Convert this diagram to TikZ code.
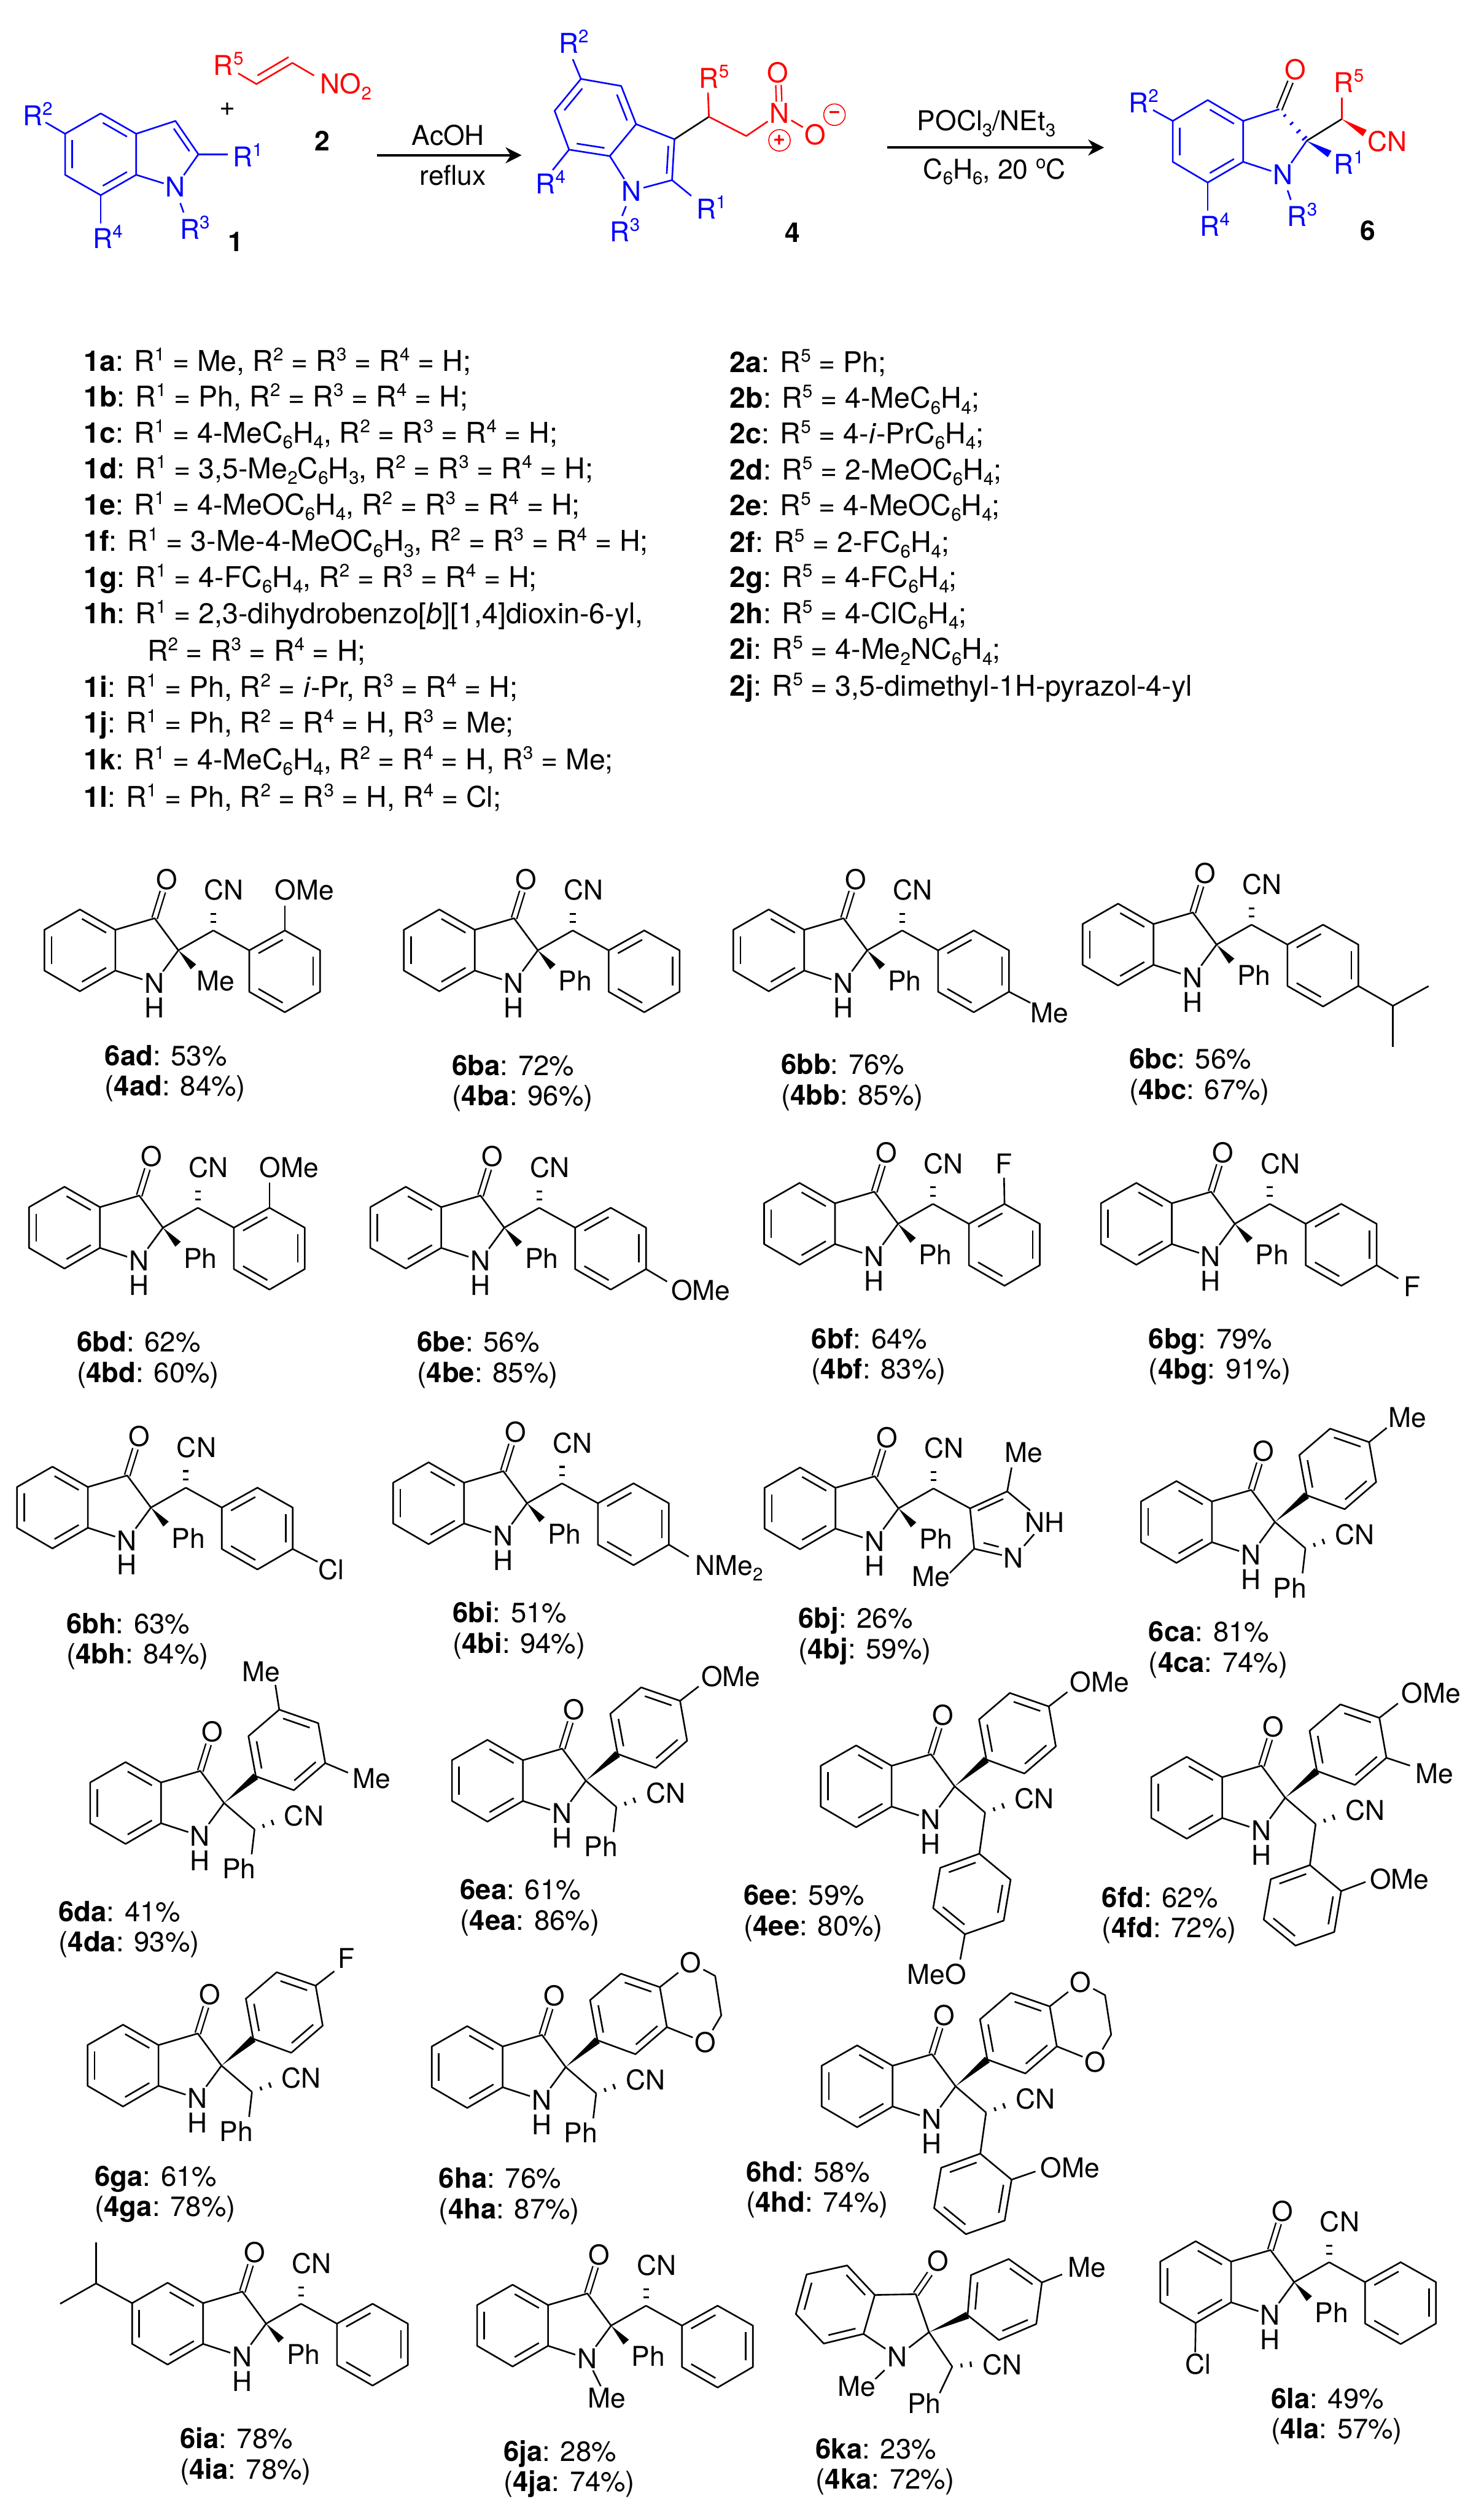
\documentclass[tikz,border=0pt]{standalone}
\usepackage{fontspec}
\setmainfont{TeX Gyre Heros}
\usetikzlibrary{calc,arrows.meta}
\newcommand{\chemsize}{\fontsize{17}{19}\selectfont}
\newcommand{\listsize}{\fontsize{17.8}{19}\selectfont}
\newcommand{\yieldsize}{\fontsize{17.4}{18.9}\selectfont}
\newcommand{\sps}[1]{\raisebox{6.5pt}{\fontsize{11.3}{11}\selectfont #1}}
\newcommand{\sbs}[1]{\raisebox{-3.6pt}{\fontsize{11.3}{11}\selectfont #1}}
\newcommand{\Rg}[1]{R\sps{#1}}
\tikzset{
  atom/.style={inner sep=1pt,font=\chemsize},
  rlabel/.style={inner sep=0pt,anchor=base west,font=\chemsize},
  txt/.style={inner sep=0pt,anchor=west,font=\listsize},
  yieldlbl/.style={inner sep=0pt,anchor=north west,align=left,font=\yieldsize},
  bond/.style={line width=1pt,line join=round},
  dblbond/.style={double,double distance=2.5pt,line width=.9pt},
  rxn/.style={line width=1.5pt,-{Stealth[length=10pt,width=10pt]}},
  charge/.style={circle,draw=red,line width=.6pt,minimum size=13.4pt,inner sep=0pt,text=red,font=\fontsize{13}{13}\bfseries\selectfont},
  mol/.style n args={3}{shift={(#2,#3)},name prefix=#1-}
}
\newcommand{\inbond}[3]{\draw[bond,shorten >=1.5pt,shorten <=1.5pt] ($(#1)!.2!(#3)$) -- ($(#2)!.2!(#3)$);}
\newcommand{\wdgbond}[2]{\fill ($(#2)!2.3pt!90:(#1)$) -- (#1) -- ($(#2)!2.3pt!-90:(#1)$) -- cycle;}
\newcommand{\hashbond}[3][.33/1.8,.66/1.8,1/1.8]{\foreach \t/\w in {#1} \draw[line width=1.2pt] ($(#2)!\t!(#3)!\w pt!90:(#3)$) -- ($(#2)!\t!(#3)!\w pt!-90:(#3)$);}
\newcommand{\subst}[4]{\coordinate (e#1) at (#2); \node[atom] (l#1) at (#3) {#4}; \draw[bond] (#1) -- (e#1);}
\newcommand{\ringcore}{
  \coordinate (c2) at (0,0);
  \coordinate (b1) at (-83.5,-12.8);
  \coordinate (b2) at (-61.4,-25.5);
  \coordinate (b3) at (-39.3,-12.8);
  \coordinate (b4) at (-39.3,12.6);
  \coordinate (b5) at (-61.4,25.5);
  \coordinate (b6) at (-83.5,12.6);
  \coordinate (bc) at (-61.4,0);
  \coordinate (co) at (-14.8,-20);
  \node[atom] (O) at (-7.3,-44.3) {O};
  \node[atom] (N) at (-15,20.5) {N};
  \draw[dblbond] (co) -- (O);
  \draw[bond] (b1) -- (b2) -- (b3) -- (b4) -- (b5) -- (b6) -- cycle;
  \draw[bond] (b3) -- (co) -- (c2) -- (N) -- (b4);
  \inbond{b6}{b1}{bc} \inbond{b2}{b3}{bc} \inbond{b4}{b5}{bc}
}
\newcommand{\NHcap}{\node[atom] (H) at (-15,35.8) {H};}
\newcommand{\sideA}[1]{
  \coordinate (w) at (9.4,10.3);
  \wdgbond{c2}{w}
  \node[atom] (R) at (23.3,19.1) {#1};
  \coordinate (ch) at (21.8,-12.4);
  \coordinate (hs) at (21.8,-28);
  \draw[bond] (c2) -- (ch);
  \hashbond{ch}{hs}
  \node[atom] (CN) at (28.4,-37.5) {CN};
}
\newcommand{\phenylA}{
  \coordinate (a1) at (44.2,0);
  \coordinate (a2) at (66.4,-12.4);
  \coordinate (a3) at (88.4,0);
  \coordinate (a4) at (88.4,25.8);
  \coordinate (a5) at (66.4,38.6);
  \coordinate (a6) at (44.2,25.8);
  \coordinate (ac) at (66.4,12.9);
  \draw[bond] (ch) -- (a1) -- (a2) -- (a3) -- (a4) -- (a5) -- (a6) -- (a1);
  \inbond{a1}{a2}{ac} \inbond{a3}{a4}{ac} \inbond{a5}{a6}{ac}
}
\newcommand{\sideB}{
  \coordinate (v1) at (19.8,-16.7);
  \coordinate (v2) at (15.2,-41.7);
  \coordinate (v3) at (34.4,-58.2);
  \coordinate (v4) at (58.7,-49.8);
  \coordinate (v5) at (63.1,-24.9);
  \coordinate (v6) at (43.5,-8);
  \coordinate (vc) at ($(v1)!.5!(v4)$);
  \wdgbond{c2}{v1}
  \draw[bond] (v1) -- (v2) -- (v3) -- (v4) -- (v5) -- (v6) -- cycle;
  \inbond{v1}{v2}{vc} \inbond{v3}{v4}{vc} \inbond{v5}{v6}{vc}
  \coordinate (ch) at (19,16.4);
  \coordinate (hs) at (36,10);
  \draw[bond] (c2) -- (ch);
  \hashbond[.33/1.2,.66/1.7,1/2.2]{ch}{hs}
  \node[atom] (CN) at (49.8,7.8) {CN};
}
\newcommand{\tailPh}{
  \coordinate (pe) at (17.2,32);
  \node[atom] (Ph) at (9.3,41) {Ph};
  \draw[bond] (ch) -- (pe);
}
\newcommand{\tailAr}{
  \coordinate (u1) at (15.4,42);
  \coordinate (u2) at (-9,50.8);
  \coordinate (u3) at (-13.4,76);
  \coordinate (u4) at (6.4,92.2);
  \coordinate (u5) at (30.6,83.7);
  \coordinate (u6) at (34.9,58.2);
  \coordinate (uc) at ($(u1)!.5!(u4)$);
  \draw[bond] (ch) -- (u1) -- (u2) -- (u3) -- (u4) -- (u5) -- (u6) -- (u1);
  \inbond{u1}{u2}{uc} \inbond{u3}{u4}{uc} \inbond{u5}{u6}{uc}
}
\newcommand{\dioxane}{
  \node[atom] (O1) at (78,-65) {O};
  \node[atom] (O2) at (87,-15.3) {O};
  \coordinate (d1) at (93.2,-56.8);
  \coordinate (d2) at (97,-32.2);
  \draw[bond] (v4) -- (O1) -- (d1) -- (d2) -- (O2) -- (v5);
}
\newcommand{\yieldtag}[5]{\node[yieldlbl] (y#1) at (#2,#3) {\textbf{6#1}: #4\%\\(\textbf{4#1}: #5\%)};}
\begin{document}
\begin{tikzpicture}[x=1pt,y=-1pt]
\useasboundingbox (0,0) rectangle (925,1568);

\begin{scope}[name prefix=one-,blue]
\coordinate (b1) at (40.6,83.4);
\coordinate (b2) at (62.8,70.7);
\coordinate (b3) at (84.9,83.4);
\coordinate (b4) at (84.9,109);
\coordinate (b5) at (62.8,121.7);
\coordinate (b6) at (40.6,109);
\coordinate (bc) at (62.8,96.2);
\coordinate (c3) at (109.4,75.4);
\coordinate (c2) at (123.7,96.2);
\coordinate (pc) at (100,93);
\node[atom] (N) at (109.4,116.6) {N};
\draw[bond] (b1) -- (b2) -- (b3) -- (b4) -- (b5) -- (b6) -- cycle;
\draw[bond] (b3) -- (c3) -- (c2) -- (N) -- (b4);
\inbond{b6}{b1}{bc} \inbond{b2}{b3}{bc} \inbond{b4}{b5}{bc} \inbond{c3}{c2}{pc}
\coordinate (e1) at (142,96.2);
\coordinate (e2) at (28.4,76.3);
\coordinate (e4) at (62.8,139.3);
\coordinate (e3a) at (112.4,126.6);
\coordinate (e3b) at (114.5,132.5);
\draw[bond] (c2) -- (e1);
\draw[bond] (b1) -- (e2);
\draw[bond] (b5) -- (e4);
\draw[bond] (e3a) -- (e3b);
\node[rlabel] (R1) at (145,103.9) {\Rg{1}};
\node[rlabel] (R2) at (14,78.3) {\Rg{2}};
\node[rlabel] (R4) at (57.7,154.9) {\Rg{4}};
\node[rlabel] (R3) at (112,149) {\Rg{3}};
\end{scope}
\node[atom,font=\chemsize\bfseries] (one) at (147,150.8) {1};
\node[atom] (plus) at (142,68.3) {+};
\node[atom,font=\chemsize\bfseries] (two) at (200.8,87.7) {2};

\begin{scope}[name prefix=two-,red]
\coordinate (v0) at (148.5,45.7);
\coordinate (v1) at (159.9,52.4);
\coordinate (v2) at (182.3,39.2);
\coordinate (v3) at (195.8,47.1);
\coordinate (w1) at (160.5,47.1);
\coordinate (w2) at (179.9,35.6);
\draw[bond] (v0) -- (v1) -- (v2) -- (v3);
\draw[bond] (w1) -- (w2);
\node[rlabel] (R5) at (133,46.9) {\Rg{5}};
\node[rlabel] (NO) at (199.6,58.5) {NO\sbs{2}};
\end{scope}

\coordinate (ra1) at (235.2,96.8);
\coordinate (ra2) at (325.2,96.8);
\draw[rxn] (ra1) -- (ra2);
\node[atom] (acoh) at (279.4,84.5) {AcOH};
\node[atom] (reflux) at (282.4,109.5) {reflux};

\begin{scope}[name prefix=four-,blue]
\coordinate (p1) at (362.2,49.2);
\coordinate (p2) at (387.3,53.6);
\coordinate (p3) at (396.6,77.4);
\coordinate (p4) at (380.2,97.3);
\coordinate (p5) at (354.8,93.3);
\coordinate (p6) at (345.8,69.1);
\coordinate (pc) at (371.2,73.2);
\coordinate (c3) at (420.5,86.8);
\coordinate (c2) at (419,112.3);
\coordinate (qc) at (402,100);
\node[atom] (N) at (393.9,119) {N};
\draw[bond] (p1) -- (p2) -- (p3) -- (p4) -- (p5) -- (p6) -- cycle;
\draw[bond] (p3) -- (c3) -- (c2) -- (N) -- (p4);
\inbond{p1}{p6}{pc} \inbond{p2}{p3}{pc} \inbond{p4}{p5}{pc} \inbond{c3}{c2}{qc}
\coordinate (e2) at (357.1,36.9);
\coordinate (e4) at (344.6,106);
\coordinate (e3a) at (390.3,128.6);
\coordinate (e3b) at (387.9,134.6);
\coordinate (e1) at (431,122.1);
\draw[bond] (p1) -- (e2);
\draw[bond] (p5) -- (e4);
\draw[bond] (e3a) -- (e3b);
\draw[bond] (c2) -- (e1);
\node[rlabel] (R2) at (348.2,33.2) {\Rg{2}};
\node[rlabel] (R4) at (333.8,120.7) {\Rg{4}};
\node[rlabel] (R3) at (380.2,150.5) {\Rg{3}};
\node[rlabel] (R1) at (434,136.4) {\Rg{1}};
\coordinate (ch) at (442,72.8);
\draw[bond,black] (c3) -- (ch);
\end{scope}
\begin{scope}[name prefix=four-,red]
\coordinate (e5) at (441.4,57.7);
\coordinate (ch2) at (465.3,84.8);
\draw[bond] (ch) -- (e5);
\node[rlabel] (R5) at (435.7,55) {\Rg{5}};
\node[atom] (Nn) at (486,70.7) {N};
\node[atom] (Ot) at (485.1,45.3) {O};
\node[atom] (Om) at (508.4,83.9) {O};
\draw[bond] (ch) -- (ch2) -- (Nn);
\draw[bond] (Nn) -- (Om);
\draw[dblbond] (Nn) -- (Ot);
\node[charge] (pl) at (486,87.5) {+};
\node[charge] (mi) at (520.3,71.5) {\textminus};
\end{scope}
\node[atom,font=\chemsize\bfseries] (four) at (494.1,145.1) {4};

\coordinate (rb1) at (553.2,92);
\coordinate (rb2) at (688.4,92);
\draw[rxn] (rb1) -- (rb2);
\node[atom] (pocl) at (615,77) {POCl\sbs{3}/NEt\sbs{3}};
\node[atom] (benz) at (620,107) {C\sbs{6}H\sbs{6}, 20 \sps{o}C};

\begin{scope}[name prefix=six-,blue]
\coordinate (t1) at (731.2,75.4);
\coordinate (t2) at (753,62.4);
\coordinate (t3) at (775.1,75.4);
\coordinate (t4) at (775.1,100.9);
\coordinate (t5) at (753,113.8);
\coordinate (t6) at (731.2,100.9);
\coordinate (tc) at (753,88.1);
\coordinate (co) at (797.6,68.1);
\coordinate (c2) at (814.7,87.8);
\coordinate (ch) at (836.6,74.2);
\coordinate (w1) at (829,96);
\coordinate (w5) at (850.9,83);
\node[atom] (N) at (799.9,109) {N};
\node[atom,red] (O) at (807.7,43.3) {O};
\draw[dblbond,black] (co) -- (O);
\draw[bond] (t1) -- (t2) -- (t3) -- (t4) -- (t5) -- (t6) -- cycle;
\draw[bond] (t3) -- (co);
\draw[bond] (c2) -- (N) -- (t4);
\inbond{t1}{t6}{tc} \inbond{t2}{t3}{tc} \inbond{t4}{t5}{tc}
\hashbond[.2/1,.45/1.3,.7/1.6,.92/1.9]{co}{c2}
\wdgbond{c2}{w1}
\draw[bond,black] (c2) -- (ch);
\coordinate (e2) at (718.9,68.6);
\coordinate (e4) at (753,131.3);
\coordinate (e3a) at (802.8,118.7);
\coordinate (e3b) at (804.8,124.6);
\draw[bond] (t1) -- (e2);
\draw[bond] (t5) -- (e4);
\draw[bond] (e3a) -- (e3b);
\node[rlabel] (R1) at (831.6,108.6) {\Rg{1}};
\node[rlabel] (R2) at (703.5,70.3) {\Rg{2}};
\node[rlabel] (R3) at (802.5,141) {\Rg{3}};
\node[rlabel] (R4) at (748,147) {\Rg{4}};
\end{scope}
\begin{scope}[name prefix=six-,red]
\coordinate (e5) at (836.6,60.7);
\draw[bond] (ch) -- (e5);
\wdgbond{ch}{w5}
\node[rlabel] (R5) at (831.6,57.5) {\Rg{5}};
\node[atom] (CN) at (865.1,88.3) {CN};
\end{scope}
\node[atom,font=\chemsize\bfseries] (six) at (852.9,143.9) {6};

\node[txt] (l1a) at (52,225.3) {\textbf{1a}: \Rg{1} = Me, \Rg{2} = \Rg{3} = \Rg{4} = H;};
\node[txt] (l1b) at (52,247.8) {\textbf{1b}: \Rg{1} = Ph, \Rg{2} = \Rg{3} = \Rg{4} = H;};
\node[txt] (l1c) at (52,270.7) {\textbf{1c}: \Rg{1} = 4-MeC\sbs{6}H\sbs{4}, \Rg{2} = \Rg{3} = \Rg{4} = H;};
\node[txt] (l1d) at (52,293) {\textbf{1d}: \Rg{1} = 3,5-Me\sbs{2}C\sbs{6}H\sbs{3}, \Rg{2} = \Rg{3} = \Rg{4} = H;};
\node[txt] (l1e) at (52,315.6) {\textbf{1e}: \Rg{1} = 4-MeOC\sbs{6}H\sbs{4}, \Rg{2} = \Rg{3} = \Rg{4} = H;};
\node[txt] (l1f) at (52,338.3) {\textbf{1f}: \Rg{1} = 3-Me-4-MeOC\sbs{6}H\sbs{3}, \Rg{2} = \Rg{3} = \Rg{4} = H;};
\node[txt] (l1g) at (52,360.8) {\textbf{1g}: \Rg{1} = 4-FC\sbs{6}H\sbs{4}, \Rg{2} = \Rg{3} = \Rg{4} = H;};
\node[txt] (l1h) at (52,383.3) {\textbf{1h}: \Rg{1} = 2,3-dihydrobenzo[\textit{b}][1,4]dioxin-6-yl,};
\node[txt] (l1hb) at (91.7,406) {\Rg{2} = \Rg{3} = \Rg{4} = H;};
\node[txt] (l1i) at (52,428.9) {\textbf{1i}: \Rg{1} = Ph, \Rg{2} = \textit{i}-Pr, \Rg{3} = \Rg{4} = H;};
\node[txt] (l1j) at (52,451.4) {\textbf{1j}: \Rg{1} = Ph, \Rg{2} = \Rg{4} = H, \Rg{3} = Me;};
\node[txt] (l1k) at (52,474.3) {\textbf{1k}: \Rg{1} = 4-MeC\sbs{6}H\sbs{4}, \Rg{2} = \Rg{4} = H, \Rg{3} = Me;};
\node[txt] (l1l) at (52,497.2) {\textbf{1l}: \Rg{1} = Ph, \Rg{2} = \Rg{3} = H, \Rg{4} = Cl;};
\node[txt] (l2a) at (454.9,226.4) {\textbf{2a}: \Rg{5} = Ph;};
\node[txt] (l2b) at (454.9,249.2) {\textbf{2b}: \Rg{5} = 4-MeC\sbs{6}H\sbs{4};};
\node[txt] (l2c) at (454.9,271.2) {\textbf{2c}: \Rg{5} = 4-\textit{i}-PrC\sbs{6}H\sbs{4};};
\node[txt] (l2d) at (454.9,293.7) {\textbf{2d}: \Rg{5} = 2-MeOC\sbs{6}H\sbs{4};};
\node[txt] (l2e) at (454.9,316) {\textbf{2e}: \Rg{5} = 4-MeOC\sbs{6}H\sbs{4};};
\node[txt] (l2f) at (454.9,338.9) {\textbf{2f}: \Rg{5} = 2-FC\sbs{6}H\sbs{4};};
\node[txt] (l2g) at (454.9,360.9) {\textbf{2g}: \Rg{5} = 4-FC\sbs{6}H\sbs{4};};
\node[txt] (l2h) at (454.9,383.3) {\textbf{2h}: \Rg{5} = 4-ClC\sbs{6}H\sbs{4};};
\node[txt] (l2i) at (454.9,405.7) {\textbf{2i}: \Rg{5} = 4-Me\sbs{2}NC\sbs{6}H\sbs{4};};
\node[txt] (l2j) at (454.9,428.5) {\textbf{2j}: \Rg{5} = 3,5-dimethyl-1H-pyrazol-4-yl};

\begin{scope}[mol={6ad}{111.2}{592.5}]
\ringcore \NHcap \sideA{Me} \phenylA
\subst{a2}{66.4,-28}{78.6,-37.5}{OMe}
\end{scope}
\begin{scope}[mol={6ba}{335.3}{592.5}]
\ringcore \NHcap \sideA{Ph} \phenylA
\end{scope}
\begin{scope}[mol={6bb}{540.7}{592.5}]
\ringcore \NHcap \sideA{Ph} \phenylA
\subst{a4}{101.7,32.7}{113.5,39}{Me}
\end{scope}
\begin{scope}[mol={6bc}{758.5}{588.9}]
\ringcore \NHcap \sideA{Ph} \phenylA
\coordinate (ip) at (110,38.2);
\coordinate (m1) at (132.2,25.9);
\coordinate (m2) at (110,63.7);
\draw[bond] (a4) -- (ip) -- (m1);
\draw[bond] (ip) -- (m2);
\end{scope}
\begin{scope}[mol={6bd}{101.6}{765.4}]
\ringcore \NHcap \sideA{Ph} \phenylA
\subst{a2}{66.4,-28}{78.6,-37.5}{OMe}
\end{scope}
\begin{scope}[mol={6be}{314.4}{765.4}]
\ringcore \NHcap \sideA{Ph} \phenylA
\subst{a4}{101.5,33.6}{122.5,39}{OMe}
\end{scope}
\begin{scope}[mol={6bf}{559.9}{763}]
\ringcore \NHcap \sideA{Ph} \phenylA
\subst{a2}{66.1,-28.7}{66.1,-37.3}{F}
\end{scope}
\begin{scope}[mol={6bg}{769.9}{763}]
\ringcore \NHcap \sideA{Ph} \phenylA
\subst{a4}{101.9,34.1}{110.6,39}{F}
\end{scope}
\begin{scope}[mol={6bh}{94.1}{939.9}]
\ringcore \NHcap \sideA{Ph} \phenylA
\subst{a4}{103.9,33.8}{112.5,38.5}{Cl}
\end{scope}
\begin{scope}[mol={6bi}{328.6}{937.2}]
\ringcore \NHcap \sideA{Ph} \phenylA
\subst{a4}{100.8,33.3}{126,40.5}{NMe\sbs{2}}
\end{scope}
\begin{scope}[mol={6bj}{560.2}{940.4}]
\ringcore \NHcap \sideA{Ph}
\coordinate (z4) at (44.6,0);
\coordinate (z5) at (67.8,-10.6);
\coordinate (z3) at (47.2,25.2);
\coordinate (zc) at (62,10);
\coordinate (zn) at (83.6,8.7);
\coordinate (zm1) at (70.5,-25.4);
\coordinate (zm2) at (32,40.3);
\node[atom] (NH) at (91,8.7) {NH};
\node[atom] (Nb) at (71.8,30.8) {N};
\node[atom] (Me1) at (78,-34.8) {Me};
\node[atom] (Me2) at (20.4,42.6) {Me};
\draw[bond] (ch) -- (z4) -- (z5) -- (NH);
\draw[bond] (z4) -- (z3);
\draw[bond] (NH) -- (Nb);
\draw[bond] (z3) -- (Nb);
\draw[bond] (z5) -- (zm1);
\draw[bond] (z3) -- (zm2);
\inbond{z4}{z5}{zc}
\coordinate (zi1) at (53,21.5);
\coordinate (zi2) at (62.5,24);
\draw[bond] (zi1) -- (zi2);
\end{scope}
\begin{scope}[mol={6ca}{794.9}{948.9}]
\ringcore \NHcap \sideB \tailPh
\subst{v4}{69.7,-58.7}{82.8,-65.2}{Me}
\end{scope}
\begin{scope}[mol={6da}{139.7}{1124.1}]
\ringcore \NHcap \sideB \tailPh
\subst{v3}{32,-73.6}{23,-82}{Me}
\subst{v5}{77.3,-18.9}{92.2,-15.2}{Me}
\end{scope}
\begin{scope}[mol={6ea}{365.3}{1110.2}]
\ringcore \NHcap \sideB \tailPh
\subst{v4}{70.3,-58.8}{90.3,-65.2}{OMe}
\end{scope}
\begin{scope}[mol={6ee}{595.2}{1113.7}]
\ringcore \NHcap \sideB \tailAr
\subst{v4}{70.3,-58.8}{90.3,-65.2}{OMe}
\subst{u4}{3.5,108}{-11,117.3}{MeO}
\end{scope}
\begin{scope}[mol={6fd}{801.3}{1120.8}]
\ringcore \NHcap \sideB \tailAr
\subst{v4}{70.3,-58.8}{90.9,-65.3}{OMe}
\subst{v5}{77.8,-20}{93,-15}{Me}
\subst{u6}{50.1,52.5}{71.3,50.6}{OMe}
\end{scope}
\begin{scope}[mol={6ga}{138.1}{1287.8}]
\ringcore \NHcap \sideB \tailPh
\subst{v4}{70.3,-58.8}{78,-67}{F}
\end{scope}
\begin{scope}[mol={6ha}{352.7}{1288.7}]
\ringcore \NHcap \sideB \tailPh \dioxane
\end{scope}
\begin{scope}[mol={6hd}{595.8}{1300.7}]
\ringcore \NHcap \sideB \tailAr \dioxane
\subst{u6}{49.8,53.1}{71.3,50.9}{OMe}
\end{scope}
\begin{scope}[mol={6ia}{165.9}{1448.7}]
\ringcore \NHcap \sideA{Ph} \phenylA
\coordinate (ip) at (-106,-25.1);
\coordinate (m1) at (-128.4,-12.4);
\coordinate (m2) at (-106,-50.8);
\draw[bond] (b1) -- (ip) -- (m1);
\draw[bond] (ip) -- (m2);
\end{scope}
\begin{scope}[mol={6ja}{381}{1449.9}]
\ringcore \sideA{Ph} \phenylA
\node[atom] (Me) at (-2.7,45.3) {Me};
\draw[bond] (N) -- (Me);
\end{scope}
\begin{scope}[mol={6la}{806.9}{1422.8}]
\ringcore \NHcap \sideA{Ph} \phenylA
\subst{b5}{-61.7,43.8}{-59.7,51.1}{Cl}
\end{scope}

\begin{scope}[name prefix=6ka-]
\coordinate (b1) at (502.9,1418);
\coordinate (b2) at (528.2,1412.4);
\coordinate (b3) at (545.4,1430.8);
\coordinate (b4) at (538.4,1455.1);
\coordinate (b5) at (513.6,1461.1);
\coordinate (b6) at (496.2,1442.7);
\coordinate (bc) at ($(b1)!.5!(b4)$);
\coordinate (co) at (571,1430.3);
\coordinate (c2) at (579.2,1454);
\node[atom] (O) at (585,1409.8) {O};
\node[atom] (N) at (559.4,1469.3) {N};
\draw[dblbond] (co) -- (O);
\draw[bond] (b1) -- (b2) -- (b3) -- (b4) -- (b5) -- (b6) -- cycle;
\draw[bond] (b3) -- (co) -- (c2) -- (N) -- (b4);
\inbond{b6}{b1}{bc} \inbond{b2}{b3}{bc} \inbond{b4}{b5}{bc}
\coordinate (n1) at (551.5,1477.7);
\coordinate (n2) at (545.7,1483.2);
\draw[bond] (n1) -- (n2);
\node[atom] (Me) at (534,1487.7) {Me};
\coordinate (v1) at (603.3,1443.4);
\coordinate (v2) at (605.4,1418.4);
\coordinate (v3) at (628.9,1408.4);
\coordinate (v4) at (649.6,1423);
\coordinate (v5) at (646.1,1448.9);
\coordinate (v6) at (622.8,1458.9);
\coordinate (vc) at ($(v1)!.5!(v4)$);
\wdgbond{c2}{v1}
\draw[bond] (v1) -- (v2) -- (v3) -- (v4) -- (v5) -- (v6) -- cycle;
\inbond{v1}{v2}{vc} \inbond{v3}{v4}{vc} \inbond{v5}{v6}{vc}
\subst{v4}{662.2,1418}{677.6,1413.5}{Me}
\coordinate (ch) at (593.7,1475.5);
\coordinate (hs) at (611.2,1473.3);
\coordinate (pe) at (585.9,1492);
\draw[bond] (c2) -- (ch) -- (pe);
\hashbond[.33/1.2,.66/1.7,1/2.2]{ch}{hs}
\node[atom] (CN) at (624.9,1474.4) {CN};
\node[atom] (Ph) at (576.2,1498.3) {Ph};
\end{scope}

\yieldtag{ad}{65.2}{651.5}{53}{84}
\yieldtag{ba}{281.8}{657.5}{72}{96}
\yieldtag{bb}{486.8}{657}{76}{85}
\yieldtag{bc}{703.8}{653.5}{56}{67}
\yieldtag{bd}{47.8}{830}{62}{60}
\yieldtag{be}{260}{830}{56}{85}
\yieldtag{bf}{505.8}{828}{64}{83}
\yieldtag{bg}{716}{828}{79}{91}
\yieldtag{bh}{41.2}{1005.5}{63}{84}
\yieldtag{bi}{282}{998.5}{51}{94}
\yieldtag{bj}{497.6}{1002}{26}{59}
\yieldtag{ca}{716}{1010.8}{81}{74}
\yieldtag{da}{36.4}{1185}{41}{93}
\yieldtag{ea}{286.8}{1171.5}{61}{86}
\yieldtag{ee}{463.6}{1175}{59}{80}
\yieldtag{fd}{686.9}{1176.3}{62}{72}
\yieldtag{ga}{58.9}{1350}{61}{78}
\yieldtag{ha}{273.5}{1351.3}{76}{87}
\yieldtag{hd}{465}{1347.4}{58}{74}
\yieldtag{ia}{112}{1513.4}{78}{78}
\yieldtag{ja}{313.8}{1521.3}{28}{74}
\yieldtag{ka}{508.4}{1520}{23}{72}
\yieldtag{la}{792.3}{1488.6}{49}{57}
\end{tikzpicture}
\end{document}
